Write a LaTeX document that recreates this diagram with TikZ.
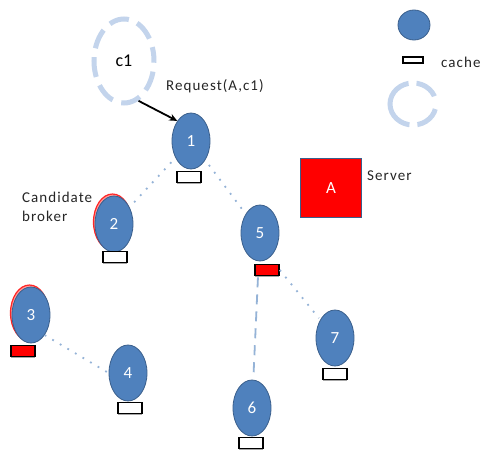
\documentclass[tikz,border=0pt]{standalone}
\usepackage{fontspec}
\setmainfont{Carlito}
\usetikzlibrary{shapes.geometric,arrows.meta}
\definecolor{nodeblue}{HTML}{4F81BD}
\definecolor{nodeedge}{HTML}{3A5F8C}
\definecolor{lightdash}{HTML}{C3D4EC}
\definecolor{edgeblue}{HTML}{95B3D7}
\newfontfamily\lblfont[LetterSpace=7]{Carlito}
\tikzset{
  peer/.style={ellipse, fill=nodeblue, draw=nodeedge, line width=0.8pt,
    minimum width=38pt, minimum height=56pt, inner sep=0pt,
    text=white, font=\fontsize{17}{20}\selectfont},
  redrim/.style={ellipse, draw=red!85, line width=1.2pt, fill=red!40,
    minimum width=38pt, minimum height=56pt, inner sep=0pt},
  cachebox/.style={rectangle, draw=black, line width=1.6pt, fill=white,
    minimum width=24pt, minimum height=11pt, inner sep=0pt},
  cachered/.style={cachebox, fill=red},
  cacheshadow/.style={rectangle, fill=gray!70, minimum width=24pt,
    minimum height=11pt, inner sep=0pt},
  link/.style={draw=edgeblue, line width=1.8pt, dash pattern=on 1.8pt off 7pt},
  linkdash/.style={draw=edgeblue, line width=1.8pt, dash pattern=on 10pt off 7pt},
  label/.style={font=\lblfont\fontsize{15}{19}\selectfont, text=black!85, inner sep=0pt},
  ring/.style={ellipse, draw=lightdash, line width=5pt, inner sep=0pt},
}
\begin{document}
\begin{tikzpicture}[x=1pt,y=-1pt]
\useasboundingbox[fill=white] (0,0) rectangle (485,453);

% legend
\node[ellipse, fill=nodeblue, draw=nodeedge, line width=0.8pt, minimum width=32pt, minimum height=30pt, inner sep=0pt] (legnode) at (414,25) {};
\node[rectangle, draw=black, line width=1.4pt, fill=white, minimum width=20pt, minimum height=6pt, inner sep=0pt] (legcache) at (413,60) {};
\node[label, anchor=west] (legcachetxt) at (441,62) {cache};
\node[ring, minimum width=46pt, minimum height=42pt, dash pattern=on 0pt off 8pt on 23pt off 8pt on 61pt off 8pt on 25pt off 5pt] (legring) at (413,104) {};

% c1 ring
\node[ring, minimum width=60pt, minimum height=84pt, dash pattern=on 20pt off 9pt, dash phase=6pt, font=\fontsize{18}{21}\selectfont, text=black] (c1) at (124,61) {c1};

% server
\node[rectangle, fill=red, draw=nodeedge, line width=0.8pt, minimum width=61pt, minimum height=59pt, inner sep=0pt, text=white, font=\fontsize{17}{20}\selectfont] (srv) at (331,188) {A};
\node[label, anchor=west] (srvtxt) at (367,176) {Server};

% red rims
\node[redrim] (r2) at (112.5,222) {};
\node[redrim] (r3) at (29.5,313) {};

% peers
\node[peer] (n1) at (191,141) {1};
\node[peer] (n2) at (114,224) {2};
\node[peer] (n3) at (31,315) {3};
\node[peer] (n4) at (128,373) {4};
\node[peer] (n5) at (260,233) {5};
\node[peer] (n6) at (252,408) {6};
\node[peer] (n7) at (335,338) {7};

% caches
\foreach \nm/\px/\py/\st in {c1b/189/177/cachebox, c2/115/257/cachebox, c3/23/351/cachered, c4/130/408/cachebox, c5/267/270/cachered, c6/251/443/cachebox, c7/335/374/cachebox}{
  \node[cacheshadow] at (\px,\py+1.5) {};
  \node[\st] (\nm) at (\px,\py) {};
}

% links
\draw[link, shorten <=6pt, shorten >=5pt] (n1) -- (n2);
\draw[link, shorten <=6pt, shorten >=5pt] (n1) -- (n5);
\draw[link, shorten >=2pt] (c5.east) -- (n7);
\draw[linkdash, shorten <=16pt, shorten >=3pt] (n5) -- (n6);
\draw[link] (n3.south east) -- (n4.west);

% request arrow
\draw[line width=1.8pt, -{Stealth[length=8pt,width=7pt]}] (c1.-70) -- (n1.north west);
\node[label, anchor=west] (req) at (166,86) {Request(A,c1)};

% candidate broker
\node[label, anchor=west, align=left] (cand) at (22,207) {Candidate\\broker};
\end{tikzpicture}
\end{document}
